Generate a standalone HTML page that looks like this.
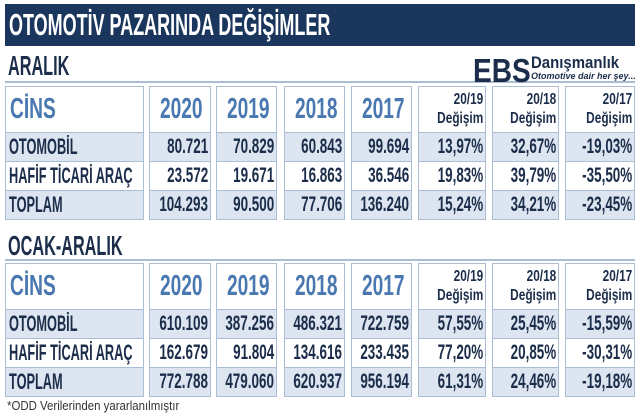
<!DOCTYPE html>
<html><head><meta charset="utf-8"><style>
body{margin:0;width:639px;height:418px;background:#fff;position:relative;overflow:hidden;font-family:"Liberation Sans",sans-serif;}
.a{position:absolute;}
.c{position:absolute;box-sizing:border-box;border:1.5px solid #a9bdd4;z-index:1;}
.t{position:absolute;white-space:nowrap;font-weight:bold;z-index:2;}
.sx{display:inline-block;transform:scaleX(0.74);}
</style></head><body>
<div class="a" style="left:5px;top:4px;width:630px;height:42px;background:#1b365d;"></div>
<div class="t" style="left:9px;top:7px;font-size:31px;color:#fff;"><span class="sx" style="transform-origin:left;transform:scaleX(0.58)">OTOMOTİV PAZARINDA DEĞİŞİMLER</span></div>
<div class="t" style="left:8px;top:50px;font-size:28px;color:#1b2d4a;"><span class="sx" style="transform-origin:left;transform:scaleX(0.58)">ARALIK</span></div>
<div class="a" style="left:5px;top:81px;width:630px;height:2px;background:#a9bdd4;"></div>
<div class="t" style="left:8px;top:230px;font-size:28px;color:#1b2d4a;"><span class="sx" style="transform-origin:left;transform:scaleX(0.58)">OCAK-ARALIK</span></div>
<div class="a" style="left:5px;top:259px;width:630px;height:2px;background:#a9bdd4;"></div>
<div>
<div class="t" style="left:473px;top:52px;font-size:33px;color:#1b2d4a;font-weight:900;"><span class="sx" style="transform-origin:left;transform:scaleX(0.85)">EBS</span></div>
<div class="t" style="left:531px;top:53px;font-size:17px;color:#1b2d4a;"><span class="sx" style="transform-origin:left;transform:scaleX(0.88)">Danışmanlık</span></div>
<div class="t" style="left:531px;top:71px;font-size:9px;color:#1b2d4a;font-style:italic;">Otomotive dair her şey...</div>
</div>
<div class="t" style="left:7px;top:398px;font-size:13px;color:#333;font-weight:normal;"><span class="sx" style="transform-origin:left;transform:scaleX(0.88)">*ODD Verilerinden yararlanılmıştır</span></div>
<script>
const headers=["CİNS","2020","2019","2018","2017","20/19|Değişim","20/18|Değişim","20/17|Değişim"];
const categories=["OTOMOBİL","HAFİF TİCARİ ARAÇ","TOPLAM"];
const aralikVals=[["80.721","70.829","60.843","99.694","13,97%","32,67%","-19,03%"],["23.572","19.671","16.863","36.546","19,83%","39,79%","-35,50%"],["104.293","90.500","77.706","136.240","15,24%","34,21%","-23,45%"]];
const ocakVals=[["610.109","387.256","486.321","722.759","57,55%","25,45%","-15,59%"],["162.679","91.804","134.616","233.435","77,20%","20,85%","-30,31%"],["772.788","479.060","620.937","956.194","61,31%","24,46%","-19,18%"]];
const colX=[[5,144],[149,211],[216,277],[284,345],[351,412],[418,486],[492,559],[565,635]];
function table(top,vals,name){
  const rows=[[top,top+46],[top+46,top+75],[top+75,top+104],[top+104,top+133]];
  rows.forEach((r,ri)=>{
    colX.forEach((c,ci)=>{
      const d=document.createElement('div');d.className='c';
      
      
      d.style.cssText=`left:${c[0]}px;top:${r[0]}px;width:${c[1]-c[0]}px;height:${r[1]-r[0]+1}px;background:${(ri==1||ri==3)?'#dce5f0':'#fff'}`;
      document.body.appendChild(d);
      let txt=ri==0?headers[ci]:(ci==0?categories[ri-1]:vals[ri-1][ci-1]);
      const t=document.createElement('div');t.className='t';
      
      
      if(ri==0&&ci>=5){
        const p=txt.split('|');
        t.innerHTML=`<span class="sx" style="transform-origin:right;text-align:right;display:inline-block">${p[0]}<br>${p[1]}</span>`;
        t.style.cssText=`right:${639-c[1]+3}px;top:${r[0]+4}px;font-size:16px;line-height:19px;color:#1b2d4a;text-align:right`;
      }else if(ri==0){
        t.innerHTML=`<span class="sx" style="transform-origin:${ci==0?'left':'center'};transform:scaleX(0.66)">${txt}</span>`;
        t.style.cssText=ci==0?`left:${c[0]+5}px;top:${r[0]+7}px;font-size:29px;color:#4a78b0`:`left:${c[0]}px;width:${c[1]-c[0]}px;text-align:center;top:${r[0]+7}px;font-size:29px;color:#4a78b0`;
      }else{
        t.innerHTML=`<span class="sx" style="transform-origin:${ci==0?'left':'right'};transform:scaleX(${ci==0?0.58:0.64})">${txt}</span>`;
        t.style.cssText=ci==0?`left:${c[0]+4}px;top:${r[0]+2}px;font-size:22px;color:#1b2d4a`:`right:${639-c[1]+3}px;top:${r[0]+3}px;font-size:21px;color:#1b2d4a`;
      }
      document.body.appendChild(t);
    });
  });
}
table(86,aralikVals,'aralik');
table(263,ocakVals,'ocak-aralik');
</script>
</body></html>
